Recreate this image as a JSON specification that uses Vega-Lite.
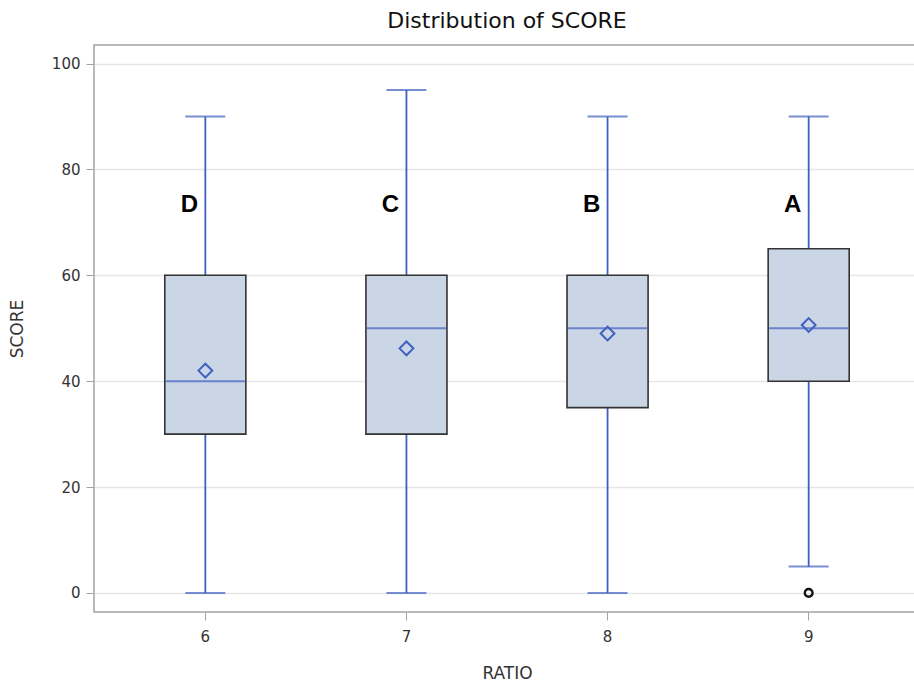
{
  "$schema": "https://vega.github.io/schema/vega-lite/v6.json",
  "autosize": "none",
  "width": 826,
  "height": 567,
  "padding": {"left": 94, "top": 45, "right": 0, "bottom": 70},
  "background": "white",
  "title": {
    "text": "Distribution of SCORE",
    "anchor": "middle",
    "font": "DejaVu Sans",
    "fontSize": 22,
    "fontWeight": "normal",
    "color": "#111111",
    "offset": 12
  },
  "config": {
    "view": {"stroke": "#a3a3a3", "strokeWidth": 1.5},
    "axis": {
      "labelFont": "DejaVu Sans",
      "labelFontSize": 15,
      "labelColor": "#333333",
      "titleFont": "DejaVu Sans",
      "titleFontSize": 17,
      "titleFontWeight": "normal",
      "titleColor": "#333333",
      "tickColor": "#a3a3a3",
      "tickSize": 8,
      "domain": false
    }
  },
  "datasets": {
    "boxes": [
      {"RATIO": "6", "lower": 0, "q1": 30, "median": 40, "q3": 60, "upper": 90, "mean": 42, "grade": "D"},
      {"RATIO": "7", "lower": 0, "q1": 30, "median": 50, "q3": 60, "upper": 95, "mean": 46.2, "grade": "C"},
      {"RATIO": "8", "lower": 0, "q1": 35, "median": 50, "q3": 60, "upper": 90, "mean": 49, "grade": "B"},
      {"RATIO": "9", "lower": 5, "q1": 40, "median": 50, "q3": 65, "upper": 90, "mean": 50.6, "grade": "A"}
    ],
    "outliers": [
      {"RATIO": "9", "SCORE": 0}
    ]
  },
  "encoding": {
    "x": {
      "field": "RATIO",
      "type": "nominal",
      "sort": ["6", "7", "8", "9"],
      "scale": {"type": "band", "paddingInner": 0.597, "paddingOuter": 0.352},
      "axis": {"title": "RATIO", "labelAngle": 0, "labelPadding": 9, "titlePadding": 21, "grid": false}
    }
  },
  "layer": [
    {
      "data": {"name": "boxes"},
      "mark": {"type": "rule", "color": "#3f60c0", "strokeWidth": 1.8},
      "encoding": {
        "y": {
          "field": "lower",
          "type": "quantitative",
          "scale": {"domain": [-3.6, 103.5], "nice": false, "zero": false},
          "axis": {
            "title": "SCORE",
            "values": [0, 20, 40, 60, 80, 100],
            "grid": true,
            "gridColor": "#e6e6e6",
            "gridWidth": 1.5,
            "labelPadding": 6,
            "titlePadding": 25
          }
        },
        "y2": {"field": "upper"}
      }
    },
    {
      "data": {"name": "boxes"},
      "mark": {"type": "tick", "color": "#3f60c0", "size": 40, "thickness": 2},
      "encoding": {"y": {"field": "lower", "type": "quantitative"}}
    },
    {
      "data": {"name": "boxes"},
      "mark": {"type": "tick", "color": "#3f60c0", "size": 40, "thickness": 2},
      "encoding": {"y": {"field": "upper", "type": "quantitative"}}
    },
    {
      "data": {"name": "boxes"},
      "mark": {"type": "bar", "fill": "#cad6e6", "stroke": "#333333", "strokeWidth": 1.6},
      "encoding": {
        "y": {"field": "q1", "type": "quantitative"},
        "y2": {"field": "q3"}
      }
    },
    {
      "data": {"name": "boxes"},
      "mark": {"type": "tick", "color": "#3f60c0", "size": 79, "thickness": 2},
      "encoding": {"y": {"field": "median", "type": "quantitative"}}
    },
    {
      "data": {"name": "boxes"},
      "mark": {"type": "point", "shape": "diamond", "filled": false, "size": 190, "stroke": "#3f60c0", "strokeWidth": 2, "opacity": 1},
      "encoding": {"y": {"field": "mean", "type": "quantitative"}}
    },
    {
      "data": {"name": "outliers"},
      "mark": {"type": "point", "shape": "circle", "filled": false, "size": 60, "stroke": "#111111", "strokeWidth": 2.4, "opacity": 1},
      "encoding": {"y": {"field": "SCORE", "type": "quantitative"}}
    },
    {
      "data": {"name": "boxes"},
      "mark": {"type": "text", "dx": -16, "font": "Liberation Sans", "fontSize": 24, "fontWeight": "bold", "color": "#000000", "baseline": "middle", "align": "center"},
      "encoding": {
        "y": {"datum": 73.2, "type": "quantitative"},
        "text": {"field": "grade"}
      }
    }
  ]
}
